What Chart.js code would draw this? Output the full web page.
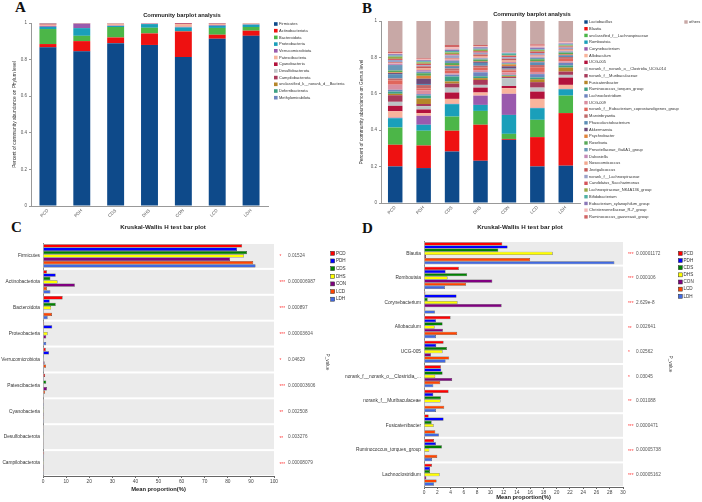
<!DOCTYPE html>
<html><head><meta charset="utf-8">
<script src="https://cdn.jsdelivr.net/npm/chart.js@4.4.1/dist/chart.umd.min.js"></script>
<style>
body{margin:0;background:#fff;width:702px;height:502px;position:relative;overflow:hidden;}
canvas{position:absolute;}
.lbl{position:absolute;font-family:"Liberation Serif","Times New Roman",serif;font-weight:bold;font-size:15px;line-height:1;color:#111;}
</style></head>
<body>
<div class="lbl" style="left:15px;top:0px">A</div>
<div class="lbl" style="left:362px;top:1px">B</div>
<div class="lbl" style="left:11px;top:220px">C</div>
<div class="lbl" style="left:362px;top:221px">D</div>
<canvas id="cA" width="350" height="236" style="left:0;top:0"></canvas>
<canvas id="cB" width="352" height="236" style="left:350px;top:0"></canvas>
<canvas id="cC" width="350" height="280" style="left:0;top:220px"></canvas>
<canvas id="cD" width="362" height="282" style="left:340px;top:220px"></canvas>
<script>
// ---------- shared ----------
const groups = ['PCD','PDH','CDS','DHS','CON','LCD','LDH'];
const groupColors = ['#ff0000','#0000ff','#008000','#ffff00','#800080','#ff4500','#4169e1'];

// ---------- Panel A: phylum level ----------
const phylumNames = ['Firmicutes','Actinobacteriota','Bacteroidota','Proteobacteria','Verrucomicrobiota','Patescibacteria','Cyanobacteria','Desulfobacterota','Campilobacterota','unclassified_k__norank_d__Bacteria','Deferribacterota','Methylomirabilota'];
const phylumColors = ['#0e4a8a','#ee1111','#4cb648','#1a9fba','#9a5aad','#f6b39c','#b3123c','#bfc5c7','#a8395a','#b5862a','#3ea184','#6e85c0'];
const phylumPCD = [0.867,0.018,0.082,0.012,0.005,0.007,0.003,0.002,0.003,0.0005,0.0005,0.0005];
const phylumPDH = [0.845,0.056,0.029,0.042,0.024,0.001,0.001,0.001,0.001,0.0003,0.0003,0.0003];
const phylumCDS = [0.890,0.031,0.057,0.006,0.002,0.010,0.001,0.001,0.001,0.0003,0.0003,0.0003];
const phylumDHS = [0.880,0.063,0.031,0.020,0.002,0.002,0.001,0.001,0.0003,0.0003,0.0003,0.0003];
const phylumCON = [0.814,0.140,0.002,0.020,0.003,0.015,0.004,0.001,0.0003,0.0003,0.0003,0.0003];
const phylumLCD = [0.914,0.022,0.037,0.012,0.004,0.006,0.002,0.001,0.001,0.0003,0.0003,0.0003];
const phylumLDH = [0.930,0.028,0.020,0.013,0.002,0.004,0.001,0.001,0.0003,0.0003,0.0003,0.0003];

// ---------- Panel B: genus level ----------
const genusNames = ['Lactobacillus','Blautia','unclassified_f__Lachnospiraceae','Romboutsia','Corynebacterium','Allobaculum','UCG-005','norank_f__norank_o__Clostridia_UCG-014','norank_f__Muribaculaceae','Fusicatenibacter','Ruminococcus_torques_group','Lachnoclostridium','UCG-009','norank_f__Eubacterium_coprostanoligenes_group','Marvinbryantia','Phascolarctobacterium','Akkermansia','Psychrobacter','Roseburia','Prevotellaceae_Ga6A1_group','Dubosiella','Nosocomiicoccus','Jeotgalicoccus','norank_f__Lachnospiraceae','Candidatus_Saccharimonas','Lachnospiraceae_NK4A136_group','Bifidobacterium','Eubacterium_xylanophilum_group','Christensenellaceae_R-7_group','Ruminococcus_gauvreauii_group','others'];
const genusColors = ['#0e4a8a','#ee1111','#4cb648','#1a9fba','#9a5aad','#f8b49c','#b3123c','#bcc4c6','#a8395a','#b5862a','#3ea184','#6e85c0','#d98ea0','#e0665c','#c06a6a','#5b8db5','#6e4a78','#e0843c','#58a858','#6a98b8','#c48ab8','#f2a890','#c45a5a','#9aa2c8','#d4545a','#98a848','#4fb0a4','#8a78b8','#f2b8b8','#d06464','#c8a8a6'];
const genusPCD = [0.201,0.119,0.095,0.051,0.003,0.035,0.030,0.022,0.036,0.008,0.012,0.010,0.028,0.024,0.010,0.024,0.006,0.004,0.010,0.030,0.008,0.004,0.004,0.012,0.006,0.012,0.006,0.008,0.006,0.008,0.168];
const genusPDH = [0.192,0.124,0.081,0.033,0.049,0.015,0.020,0.018,0.012,0.030,0.016,0.008,0.020,0.012,0.018,0.006,0.029,0.016,0.014,0.008,0.010,0.010,0.010,0.006,0.008,0.008,0.006,0.006,0.006,0.004,0.205];
const genusCDS = [0.283,0.114,0.078,0.068,0.002,0.027,0.035,0.027,0.022,0.012,0.027,0.010,0.008,0.014,0.012,0.010,0.004,0.004,0.012,0.012,0.006,0.006,0.004,0.014,0.006,0.010,0.008,0.008,0.012,0.013,0.132];
const genusDHS = [0.232,0.198,0.076,0.033,0.051,0.017,0.027,0.015,0.027,0.010,0.010,0.022,0.012,0.014,0.010,0.016,0.006,0.004,0.008,0.006,0.004,0.010,0.008,0.010,0.008,0.008,0.006,0.008,0.006,0.006,0.132];
const genusCON = [0.347,0.005,0.028,0.104,0.116,0.031,0.012,0.043,0.006,0.005,0.004,0.003,0.014,0.010,0.006,0.005,0.012,0.010,0.004,0.004,0.006,0.008,0.010,0.008,0.008,0.003,0.010,0.004,0.004,0.003,0.167];
const genusLCD = [0.201,0.161,0.095,0.064,0.002,0.049,0.040,0.022,0.030,0.016,0.010,0.018,0.012,0.026,0.012,0.014,0.004,0.004,0.010,0.008,0.006,0.006,0.004,0.010,0.008,0.008,0.004,0.010,0.010,0.008,0.128];
const genusLDH = [0.205,0.289,0.096,0.035,0.002,0.022,0.040,0.015,0.018,0.022,0.012,0.014,0.008,0.014,0.010,0.008,0.004,0.004,0.008,0.006,0.004,0.006,0.004,0.008,0.006,0.006,0.005,0.006,0.006,0.004,0.113];

// ---------- Panel C: Kruskal-Wallis, phylum (%) ----------
const phylaC = ['Firmicutes','Actinobacteriota','Bacteroidota','Proteobacteria','Verrucomicrobiota','Patescibacteria','Cyanobacteria','Desulfobacterota','Campilobacterota'];
const kwC_PCD = [86.2,1.7,8.5,0.5,1.2,0.9,0.1,0.3,0.5];
const kwC_PDH = [84.0,5.5,2.9,4.0,2.6,0.1,0.05,0.1,0.05];
const kwC_CDS = [88.3,3.2,5.5,0.3,0.4,1.4,0.05,0.1,0.05];
const kwC_DHS = [87.0,6.3,3.5,2.0,0.1,0.2,0.05,0.1,0.05];
const kwC_CON = [81.0,13.8,0.2,1.4,0.7,1.7,0.4,0.3,0.05];
const kwC_LCD = [91.0,1.7,3.9,0.3,1.3,0.9,0.05,0.1,0.05];
const kwC_LDH = [92.0,3.2,2.0,1.4,0.4,0.3,0.05,0.1,0.05];
const pvalC = ['0.01524','0.000006987','0.000897','0.00003604','0.04629','0.000003606','0.002508','0.003276','0.00008079'];

// ---------- Panel D: Kruskal-Wallis, genus (%) ----------
const generaD = ['Blautia','Romboutsia','Corynebacterium','Allobaculum','UCG-005','norank_f__norank_o__Clostridia_...','norank_f__Muribaculaceae','Fusicatenibacter','Ruminococcus_torques_group','Lachnoclostridium'];
const kwD_PCD = [11.8,5.25,0.2,4.0,2.95,2.55,3.7,0.7,1.5,1.2];
const kwD_PDH = [12.6,3.25,4.9,1.8,1.85,2.6,1.4,2.95,1.8,0.9];
const kwD_CDS = [11.2,6.5,0.55,2.8,3.45,2.8,2.55,1.15,2.7,0.9];
const kwD_DHS = [19.4,3.55,5.05,1.6,2.8,1.7,2.5,1.45,0.8,2.35];
const kwD_CON = [0.3,10.3,11.7,2.85,1.05,4.25,0.1,0.1,0.1,0.35];
const kwD_LCD = [16.0,6.35,0.2,5.0,3.8,2.45,3.05,1.7,2.0,1.9];
const kwD_LDH = [28.7,3.15,1.65,1.8,3.25,1.4,1.8,2.25,1.2,1.5];
const pvalD = ['0.00001172','0.000106','2.629e-8','0.002641','0.02562','0.03045','0.001088','0.0000471','0.00005738','0.00005162'];

// ---------- helpers ----------
const FONT = '"Liberation Sans", Arial, sans-serif';
Chart.defaults.font.family = FONT;
const stars = p => { const v = parseFloat(p); return v < 0.001 ? '***' : v < 0.01 ? '**' : v < 0.05 ? '*' : ''; };

function decor(o){
  return {id:'decor', afterDraw(chart){
    const ctx = chart.ctx; ctx.save();
    if (o.title){
      ctx.font = 'bold ' + o.title.size + 'px ' + FONT; ctx.fillStyle = '#222';
      ctx.textAlign = 'center'; ctx.textBaseline = 'middle';
      ctx.fillText(o.title.text, o.title.x, o.title.y);
    }
    if (o.legend){
      const L = o.legend;
      ctx.font = L.size + 'px ' + FONT; ctx.textAlign = 'left'; ctx.textBaseline = 'middle';
      chart.data.datasets.forEach((ds, i) => {
        let x = L.x, y = L.y + i * L.dy;
        if (L.extraIndex === i){ x = L.extraX; y = L.extraY; }
        ctx.fillStyle = ds.backgroundColor;
        ctx.fillRect(x, y - L.sq/2, L.sq, L.sq);
        if (L.border){ ctx.strokeStyle = '#333'; ctx.lineWidth = 0.5; ctx.strokeRect(x, y - L.sq/2, L.sq, L.sq); }
        ctx.fillStyle = '#333';
        ctx.fillText(ds.label, x + L.tx, y);
      });
    }
    if (o.pvals){
      const P = o.pvals, ys = chart.scales.y, a = chart.chartArea;
      ctx.textAlign = 'left'; ctx.textBaseline = 'middle';
      P.values.forEach((p, i) => {
        const yy = ys.getPixelForValue(i);
        ctx.font = P.size + 'px ' + FONT;
        ctx.fillStyle = '#ff3b3b'; ctx.fillText(stars(p), a.right + P.mx, yy + 1.2);
        ctx.fillStyle = '#555'; ctx.fillText(p, a.right + P.tx, yy);
      });
      ctx.translate(P.lx, P.ly); ctx.rotate(Math.PI/2);
      ctx.textAlign = 'center'; ctx.fillStyle = '#444'; ctx.font = P.size + 'px ' + FONT;
      ctx.fillText('P_value', 0, 0);
    }
    ctx.restore();
  }};
}
function rowBands(){
  return {id:'rowBands', beforeDatasetsDraw(chart){
    const {ctx, chartArea:a, scales:{y}} = chart;
    const n = chart.data.labels.length;
    const step = y.getPixelForValue(1) - y.getPixelForValue(0);
    ctx.save(); ctx.fillStyle = '#ebebeb';
    for (let i = 0; i < n; i++){
      const c = y.getPixelForValue(i);
      ctx.fillRect(a.left + 0.5, c - step/2 + 1, a.right - a.left - 0.5, step - 2);
    }
    ctx.restore();
  }};
}

function stackedChart(id, names, colors, rows, opt){
  return new Chart(document.getElementById(id), {
    type:'bar',
    data:{labels:groups, datasets:names.map((n, i) => ({
      label:n, data:rows.map(r => r[i]), backgroundColor:colors[i], borderWidth:0,
      barPercentage:opt.barPct, categoryPercentage:1}))},
    options:{
      responsive:false, animation:false, devicePixelRatio:1,
      layout:{padding:{top:opt.top, right:opt.right, left:0, bottom:0}},
      plugins:{legend:{display:false}, tooltip:{enabled:false}},
      scales:{
        x:{stacked:true, grid:{display:false, tickLength:1}, border:{color:'#999', width:1},
           ticks:{font:{size:4.5}, color:'#555', maxRotation:45, minRotation:45, padding:1},
           afterFit(s){ s.height = opt.xh; }},
        y:{stacked:true, min:0, max:1,
           ticks:{stepSize:0.2, font:{size:4.5}, color:'#555', padding:2, callback:v => String(+(+v).toFixed(1))},
           grid:{display:true, drawOnChartArea:false, tickLength:2, color:'#999'}, border:{color:'#999'},
           title:{display:true, text:opt.ytitle, font:{size:4.8}, color:'#333', padding:{top:opt.ytp, bottom:0}},
           afterFit(s){ s.width = 31; }}
      }
    },
    plugins:[decor(opt.decor)]
  });
}

function kwChart(id, cats, rows, max, step, opt){
  return new Chart(document.getElementById(id), {
    type:'bar',
    data:{labels:cats, datasets:groups.map((g, i) => ({
      label:g, data:rows[i], backgroundColor:groupColors[i], borderColor:'#3a3a3a', borderWidth:0.5,
      barPercentage:1, categoryPercentage:0.9}))},
    options:{
      indexAxis:'y', responsive:false, animation:false, devicePixelRatio:1,
      layout:{padding:{top:opt.top, right:opt.right, left:0, bottom:0}},
      plugins:{legend:{display:false}, tooltip:{enabled:false}},
      scales:{
        x:{min:0, max:max, ticks:{stepSize:step, font:{size:4.8}, color:'#444', padding:1},
           grid:{display:true, drawOnChartArea:false, tickLength:2, color:'#666'}, border:{color:'#666'},
           title:{display:true, text:'Mean proportion(%)', font:{size:5.8, weight:'bold'}, color:'#222', padding:{top:0, bottom:opt.tpb}},
           afterFit(s){ s.height = opt.xh; }},
        y:{ticks:{font:{size:4.8}, color:'#333', padding:3, autoSkip:false},
           grid:{display:false, drawTicks:false, tickLength:0}, border:{color:'#888'},
           afterFit(s){ s.width = opt.yw; }}
      }
    },
    plugins:[rowBands(), decor(opt.decor)]
  });
}

// ---------- build ----------
stackedChart('cA', phylumNames, phylumColors,
  [phylumPCD, phylumPDH, phylumCDS, phylumDHS, phylumCON, phylumLCD, phylumLDH],
  {barPct:0.5, top:23, right:82, xh:30, ytp:12, ytitle:'Percent of community abundance on Phylum level',
   decor:{title:{text:'Community barplot analysis', x:182, y:15, size:5.8},
          legend:{x:274, y:24, dy:6.7, sq:3.6, size:4, tx:5}}});

stackedChart('cB', genusNames, genusColors,
  [genusPCD, genusPDH, genusCDS, genusDHS, genusCON, genusLCD, genusLDH],
  {barPct:0.51, top:21, right:122, xh:33, ytp:9, ytitle:'Percent of community abundance on Genus level',
   decor:{title:{text:'Community barplot analysis', x:182, y:14, size:5.8},
          legend:{x:234.3, y:22, dy:6.72, sq:3.4, size:4, tx:4.8, extraIndex:30, extraX:334.3, extraY:22}}});

kwChart('cC', phylaC, [kwC_PCD, kwC_PDH, kwC_CDS, kwC_DHS, kwC_CON, kwC_LCD, kwC_LDH], 100, 10,
  {top:23, right:76, xh:24, yw:43, tpb:7,
   decor:{title:{text:'Kruskal-Wallis H test bar plot', x:163, y:7, size:6.2},
          legend:{x:330.7, y:33.3, dy:7.65, sq:4, size:4.6, tx:5.2, border:true},
          pvals:{values:pvalC, mx:5.5, tx:14, size:4.7, lx:327, ly:142}}});

kwChart('cD', generaD, [kwD_PCD, kwD_PDH, kwD_CDS, kwD_DHS, kwD_CON, kwD_LCD, kwD_LDH], 30, 2,
  {top:21, right:79, xh:15, yw:84, tpb:1,
   decor:{title:{text:'Kruskal-Wallis H test bar plot', x:180, y:7, size:6.2},
          legend:{x:338.3, y:33.4, dy:7.15, sq:4, size:4.6, tx:5.2, border:true},
          pvals:{values:pvalD, mx:5, tx:13, size:4.7, lx:330, ly:144}}});
</script>
</body></html>
